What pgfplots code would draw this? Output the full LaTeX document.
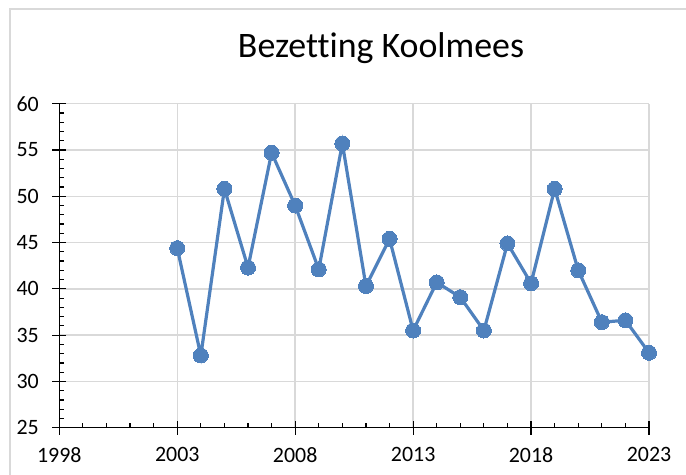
\documentclass[border=0pt]{standalone}
\usepackage{fontspec}
\setmainfont{Carlito}[RawFeature={-liga;-clig;-calt;-dlig}]
\usepackage{pgfplots}
\pgfplotsset{compat=1.18}
\definecolor{lineblue}{HTML}{4F81BD}
\definecolor{gridgray}{HTML}{D9D9D9}
\begin{document}
\begin{tikzpicture}[x=1bp,y=1bp]
\path[use as bounding box] (0,0) rectangle (686,-475);
\draw[gridgray, line width=1.5bp] (10,-500) -- (10,-9) -- (700,-9);
\node[font=\fontsize{36}{42}\selectfont] at (381,-48) {Bezetting Koolmees};
\begin{axis}[
  at={(59.3bp,-427.7bp)}, anchor=south west,
  scale only axis, width=589.7bp, height=324bp,
  xmin=1998, xmax=2023, ymin=25, ymax=60,
  xtick={1998,2003,...,2023}, ytick={25,30,...,60},
  minor x tick num=4, minor y tick num=4,
  axis lines*=left,
  grid=major,
  major grid style={gridgray, line width=1.4bp},
  axis line style={black, line width=1.2bp},
  tick style={black, line width=1.2bp},
  tick align=center,
  major tick length=14bp, minor tick length=5bp,
  minor x tick style={yshift=2.5bp},
  minor y tick style={xshift=2.5bp},
  /pgf/number format/assume math mode=true,
  /pgf/number format/1000 sep={},
  every tick label/.append style={font=\fontsize{22}{26}\selectfont, text=black},
  xticklabel style={yshift=-9bp},
  yticklabel style={xshift=-10bp},
  clip=false,
]
\addplot[lineblue, line width=3.2bp, mark=*, mark size=7.5bp, mark options={fill=lineblue, draw=lineblue, line width=0pt}]
table {
x y
2003 44.4
2004 32.8
2005 50.8
2006 42.3
2007 54.7
2008 49.0
2009 42.1
2010 55.7
2011 40.3
2012 45.4
2013 35.5
2014 40.7
2015 39.1
2016 35.5
2017 44.9
2018 40.6
2019 50.8
2020 42.0
2021 36.4
2022 36.6
2023 33.1
};
\end{axis}
\end{tikzpicture}
\end{document}
